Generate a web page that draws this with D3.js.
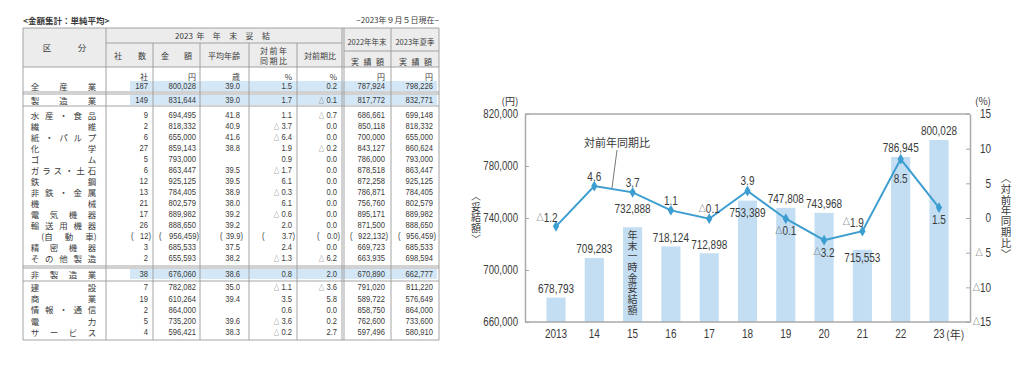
<!DOCTYPE html>
<html>
<head>
<meta charset="utf-8">
<script src="https://cdn.jsdelivr.net/npm/d3@7"></script>
<style>
  body { margin: 0; background: #fff; }
  svg text { font-family: "Liberation Sans", "Noto Sans CJK JP", sans-serif; fill: #3a3a3a; }
  svg text.cjk { font-family: "Noto Sans CJK JP", sans-serif; }
</style>
</head>
<body>
<div id="d3-container"></div>
<script>
// ---- table data ----
const industries = ['全 産 業', '製 造 業', '水 産 ・ 食 品', '繊 維', '紙 ・ パ ル プ', '化 学', 'ゴ ム',
  'ガ ラ ス ・ 土 石', '鉄 鋼', '非 鉄 ・ 金 属', '機 械', '電 気 機 器', '輸 送 用 機 器', '(自 動 車)',
  '精 密 機 器', 'そ の 他 製 造', '非 製 造 業', '建 設', '商 業', '情 報 ・ 通 信', '電 力', 'サ ー ビ ス'];
const companies = [187, 149, 9, 2, 6, 27, 5, 6, 12, 13, 21, 17, 26, 12, 3, 2, 38, 7, 19, 2, 5, 4];
const amounts2023 = [800028, 831644, 694495, 818332, 655000, 859143, 793000, 863447, 925125, 784405, 802579,
  889982, 888650, 956459, 685533, 655593, 676060, 782082, 610264, 864000, 735200, 596421];
const avgAge = [39.0, 39.0, 41.8, 40.9, 41.6, 38.8, null, 39.5, 39.5, 38.9, 38.0, 39.2, 39.2, 39.9, 37.5, 38.2,
  38.6, 35.0, 39.4, null, 39.6, 38.3];
const yoyRate = [1.5, 1.7, 1.1, -3.7, -6.4, 1.9, 0.9, -1.7, 6.1, -0.3, 6.1, -0.6, 2.0, 3.7, 2.4, -1.3,
  0.8, -1.1, 3.5, 0.6, -3.6, -0.2];
const qoqRate = [0.2, -0.1, -0.7, 0.0, 0.0, -0.2, 0.0, 0.0, 0.0, 0.0, 0.0, 0.0, 0.0, 0.0, 0.0, -6.2,
  2.0, -3.6, 5.8, 0.0, 0.2, 2.7];
const results2022 = [787924, 817772, 686661, 850118, 700000, 843127, 786000, 878518, 872258, 786871, 756760,
  895171, 871500, 922132, 669723, 663935, 670890, 791020, 589722, 858750, 762600, 597496];
const summer2023 = [798226, 832771, 699148, 818332, 655000, 860624, 793000, 863447, 925125, 784405, 802579,
  889982, 888650, 956459, 685533, 698594, 662777, 811220, 576649, 864000, 733600, 580910];
const unitLabels = ['社', '円', '歳', '%', '%', '円', '円'];

// ---- chart data ----
const years = ['2013', '14', '15', '16', '17', '18', '19', '20', '21', '22', '23'];
const settlement = [678793, 709283, 732888, 718124, 712898, 753389, 747808, 743968, 715553, 786945, 800028];
const yoyChange = [-1.2, 4.6, 3.7, 1.1, -0.1, 3.9, -0.1, -3.2, -1.9, 8.5, 1.5];
const leftTicks = [660000, 700000, 740000, 780000, 820000];
const rightTicks = [15, 10, 5, 0, -5, -10, -15];

// label placement (not data)
const yoyLabelSide = ['left', 'above', 'above', 'above', 'above', 'above', 'below', 'below', 'left', 'below2', 'below'];
const barLabelNudge = [0, 0, -10, 0, 0, 21, 0, 0, 17, 0, 0];

const width = 1024;
const height = 366;
const narrow = 0.8; // horizontal squeeze for the condensed digits look

const svg = d3.select('#d3-container')
  .append('svg')
  .attr('width', width)
  .attr('height', height);

const fmtInt = d3.format(',');
const fmtDec = d3.format('.1f');

// text with a squeezed width, positioned by transform
function put(g, x, y, str, size, anchor) {
  return g.append('text')
    .attr('transform', `translate(${x},${y}) scale(${narrow},1)`)
    .attr('text-anchor', anchor || 'start')
    .attr('dominant-baseline', 'central')
    .attr('font-size', size)
    .text(str);
}
// value that may be negative: small triangle then number
function putSigned(g, x, y, v, size, anchor, gap, fmt) {
  const f = fmt || fmtDec;
  const t = put(g, x, y, '', size, anchor);
  if (v < 0) {
    t.append('tspan').attr('font-size', size * 0.72).text('△');
    t.append('tspan').text((gap ? ' ' : '') + f(-v));
  } else {
    t.text(f(v));
  }
  return t;
}

// ================= TABLE =================
const tbl = svg.append('g');
const tblLeft = 23, tblRight = 439, tblTop = 28, tblBottom = 340;
const colRight = [148, 196, 240, 292, 337, 385, 433];
const parenOffset = [20, 40, 23, 33, 23, 38, 38];
const lineCol = '#9a9a9a';
const numSize = 9.5;

function rowY(i) {
  if (i === 0) return 86;
  if (i === 1) return 100;
  if (i <= 15) return 115 + (i - 2) * 11;
  if (i === 16) return 274;
  return 287 + (i - 17) * 11.2;
}

// spread units evenly between x0 and x1
function spread(g, units, x0, x1, y, size) {
  const n = units.length;
  g.append('g').selectAll('text')
    .data(units)
    .join('text')
      .attr('class', 'cjk')
      .attr('x', (d, i) => n === 1 ? (x0 + x1) / 2 : x0 + (x1 - x0) * i / (n - 1))
      .attr('y', y)
      .attr('text-anchor', 'middle')
      .attr('dominant-baseline', 'central')
      .attr('font-size', size)
      .text(d => d);
}

// header background
tbl.append('rect')
  .attr('x', tblLeft).attr('y', tblTop)
  .attr('width', tblRight - tblLeft).attr('height', 67 - tblTop)
  .attr('fill', '#ececec');

// highlighted rows
[0, 1, 16].forEach(i => {
  tbl.append('rect')
    .attr('x', 130).attr('y', rowY(i) - 5)
    .attr('width', 307).attr('height', 10)
    .attr('fill', '#d4e7f6');
});

// title and date
tbl.append('text').attr('class', 'cjk').attr('x', 23).attr('y', 20).attr('font-size', 8.5)
  .attr('font-weight', 'bold').attr('dominant-baseline', 'central').text('<金額集計：単純平均>');
tbl.append('text').attr('class', 'cjk').attr('x', 439).attr('y', 19).attr('font-size', 8)
  .attr('dominant-baseline', 'central').attr('text-anchor', 'end').text('−2023年９月５日現在−');

// header texts
spread(tbl, ['区', '分'], 47, 82, 47, 8.5);
spread(tbl, ['2023', '年', '年', '末', '妥', '結'], 184, 266, 35, 8);
spread(tbl, ['社', '数'], 118, 142, 55, 8);
spread(tbl, ['金', '額'], 165, 188, 55, 8);
spread(tbl, ['平均年齢'], 224, 224, 55, 8);
spread(tbl, ['対', '前', '年'], 264, 283, 50, 8);
spread(tbl, ['同', '期', '比'], 264, 283, 60, 8);
spread(tbl, ['対前期比'], 320, 320, 55, 8);
spread(tbl, ['2022年年末'], 367, 367, 41, 7.5);
spread(tbl, ['実', '績', '額'], 355, 380, 61, 8);
spread(tbl, ['2023年夏季'], 415, 415, 41, 7.5);
spread(tbl, ['実', '績', '額'], 403, 428, 61, 8);

// unit row
tbl.append('g').selectAll('text')
  .data(unitLabels)
  .join('text')
    .attr('class', 'cjk')
    .attr('x', (d, i) => colRight[i])
    .attr('y', 76)
    .attr('text-anchor', 'end')
    .attr('dominant-baseline', 'central')
    .attr('font-size', 8)
    .text(d => d);

// body rows
const cols = [companies, amounts2023, avgAge, yoyRate, qoqRate, results2022, summer2023];
const colKind = ['int', 'money', 'dec', 'signed', 'signed', 'money', 'money'];

industries.forEach((name, i) => {
  const y = rowY(i);
  const paren = name.startsWith('(');
  spread(tbl, name.split(' '), paren ? 47 : 35, paren ? 91 : 92, y, 8.5);
  cols.forEach((col, c) => {
    const v = col[i];
    if (v == null) return;
    const xr = colRight[c] + (paren ? 3 : 0);
    let t;
    if (colKind[c] === 'signed') t = putSigned(tbl, xr, y, v, numSize, 'end', true);
    else if (colKind[c] === 'dec') t = put(tbl, xr, y, fmtDec(v), numSize, 'end');
    else t = put(tbl, xr, y, colKind[c] === 'money' ? fmtInt(v) : String(v), numSize, 'end');
    if (paren) {
      t.append('tspan').text(')');
      put(tbl, xr - parenOffset[c], y, '(', numSize, 'start');
    }
  });
});

// table lines
const hLines = [
  [tblLeft, tblRight, 28], [106, 342, 43], [344, tblRight, 51], [tblLeft, tblRight, 67],
  [tblLeft, tblRight, 92], [tblLeft, tblRight, 94], [tblLeft, tblRight, 106],
  [tblLeft, tblRight, 266], [tblLeft, tblRight, 268], [tblLeft, tblRight, 281], [tblLeft, tblRight, 340]
];
tbl.append('g').selectAll('line')
  .data(hLines)
  .join('line')
    .attr('x1', d => d[0]).attr('x2', d => d[1])
    .attr('y1', d => d[2]).attr('y2', d => d[2])
    .attr('stroke', lineCol).attr('stroke-width', 0.9);

const vLines = [
  [tblLeft, 28, 340], [106, 28, 340], [153, 43, 340], [200, 43, 340], [249, 43, 340],
  [297, 43, 340], [342, 28, 340], [344, 28, 340], [391, 28, 340], [tblRight, 28, 340]
];
tbl.append('g').selectAll('line')
  .data(vLines)
  .join('line')
    .attr('x1', d => d[0]).attr('x2', d => d[0])
    .attr('y1', d => d[1]).attr('y2', d => d[2])
    .attr('stroke', lineCol).attr('stroke-width', 0.9);

// ================= CHART =================
const chart = svg.append('g');
const plot = { left: 525, right: 970, top: 114, bottom: 322 };
const barColor = '#c3def3';
const lineColor = '#3c9dd0';
const axisColor = '#a8a8a8';

const x = d3.scaleBand()
  .domain(years)
  .range([plot.left, plot.right])
  .paddingInner(0.5)
  .paddingOuter(0.56);
const cx = d => x(d) + x.bandwidth() / 2;

const yL = d3.scaleLinear().domain([660000, 820000]).range([plot.bottom, plot.top]);
const yR = d3.scaleLinear().domain([-15, 15]).range([plot.bottom, plot.top]);

// bars
chart.append('g')
  .attr('fill', barColor)
  .selectAll('rect')
  .data(settlement)
  .join('rect')
    .attr('x', (d, i) => x(years[i]))
    .attr('y', d => yL(d))
    .attr('width', x.bandwidth())
    .attr('height', d => yL(660000) - yL(d));

// frame top / bottom
chart.append('line').attr('x1', plot.left).attr('x2', plot.right).attr('y1', plot.top).attr('y2', plot.top)
  .attr('stroke', axisColor).attr('stroke-width', 1.5);
chart.append('line').attr('x1', plot.left).attr('x2', plot.right).attr('y1', plot.bottom).attr('y2', plot.bottom)
  .attr('stroke', axisColor).attr('stroke-width', 1.5);

function styleAxis(g) {
  g.attr('font-family', null);
  g.select('.domain').attr('stroke', axisColor).attr('stroke-width', 1.5);
  g.selectAll('.tick line').attr('stroke', axisColor);
  g.selectAll('.tick text').remove();
}

chart.append('g')
  .attr('transform', `translate(${plot.left},0)`)
  .call(d3.axisLeft(yL).tickValues(leftTicks).tickSize(-4).tickSizeOuter(0))
  .call(styleAxis);
leftTicks.forEach(v => put(chart, plot.left - 7, yL(v), fmtInt(v), 12, 'end'));

chart.append('g')
  .attr('transform', `translate(${plot.right},0)`)
  .call(d3.axisRight(yR).tickValues(rightTicks).tickSize(-4).tickSizeOuter(0))
  .call(styleAxis);
rightTicks.forEach(v => putSigned(chart, plot.right + 21, yR(v), v, 12.5, 'end', v > -10, d3.format('d')));

// x labels
years.forEach(d => put(chart, cx(d), 334, d, 12.5, 'middle'));
chart.append('text').attr('class', 'cjk').attr('x', cx('23') + 7).attr('y', 334)
  .attr('dominant-baseline', 'central').attr('font-size', 11).text('(年)');

// units
chart.append('text').attr('class', 'cjk').attr('x', 510).attr('y', 100).attr('text-anchor', 'middle')
  .attr('dominant-baseline', 'central').attr('font-size', 10).text('(円)');
chart.append('text').attr('class', 'cjk').attr('x', 983).attr('y', 100).attr('text-anchor', 'middle')
  .attr('dominant-baseline', 'central').attr('font-size', 10).text('(%)');

// vertical (tategaki) text as one element
function vtext(g, str, xPos, yMid, size, spacing) {
  return g.append('text')
    .attr('class', 'cjk')
    .attr('x', xPos)
    .attr('y', yMid)
    .attr('writing-mode', 'vertical-rl')
    .style('writing-mode', 'vertical-rl')
    .attr('text-anchor', 'middle')
    .attr('font-size', size)
    .attr('letter-spacing', spacing)
    .text(str);
}
vtext(chart, '〈妥結額〉', 476, 218, 10, 0.8);
vtext(chart, '〈対前年同期比〉', 1006, 216, 10.5, 0.3);

// bar value labels
settlement.forEach((d, i) => put(chart, cx(years[i]), yL(d) - 9 + barLabelNudge[i], fmtInt(d), 12.5, 'middle'));

// vertical text in 2015 bar
vtext(chart, '年末一時金妥結額', cx('15'), 273, 10, 0.7);

// yoy line
const line = d3.line()
  .x((d, i) => cx(years[i]))
  .y(d => yR(d));

chart.append('path')
  .datum(yoyChange)
  .attr('fill', 'none')
  .attr('stroke', lineColor)
  .attr('stroke-width', 2)
  .attr('d', line);

chart.append('g')
  .attr('fill', lineColor)
  .selectAll('path')
  .data(yoyChange)
  .join('path')
    .attr('transform', (d, i) => `translate(${cx(years[i])},${yR(d)})`)
    .attr('d', d3.symbol(d3.symbolDiamond, 34));

const labelOffset = {
  above: [0, -10], below: [0, 12], below2: [0, 20], left: [-9, -9]
};
yoyChange.forEach((d, i) => {
  const off = labelOffset[yoyLabelSide[i]];
  putSigned(chart, cx(years[i]) + off[0], yR(d) + off[1], d, 12.5, 'middle', false);
});

// callout
chart.append('text').attr('class', 'cjk').attr('x', 617).attr('y', 142).attr('text-anchor', 'middle')
  .attr('dominant-baseline', 'central').attr('font-size', 11).text('対前年同期比');
chart.append('line').attr('x1', 617).attr('y1', 150).attr('x2', 612).attr('y2', 188)
  .attr('stroke', '#555').attr('stroke-width', 0.8);
</script>
</body>
</html>
